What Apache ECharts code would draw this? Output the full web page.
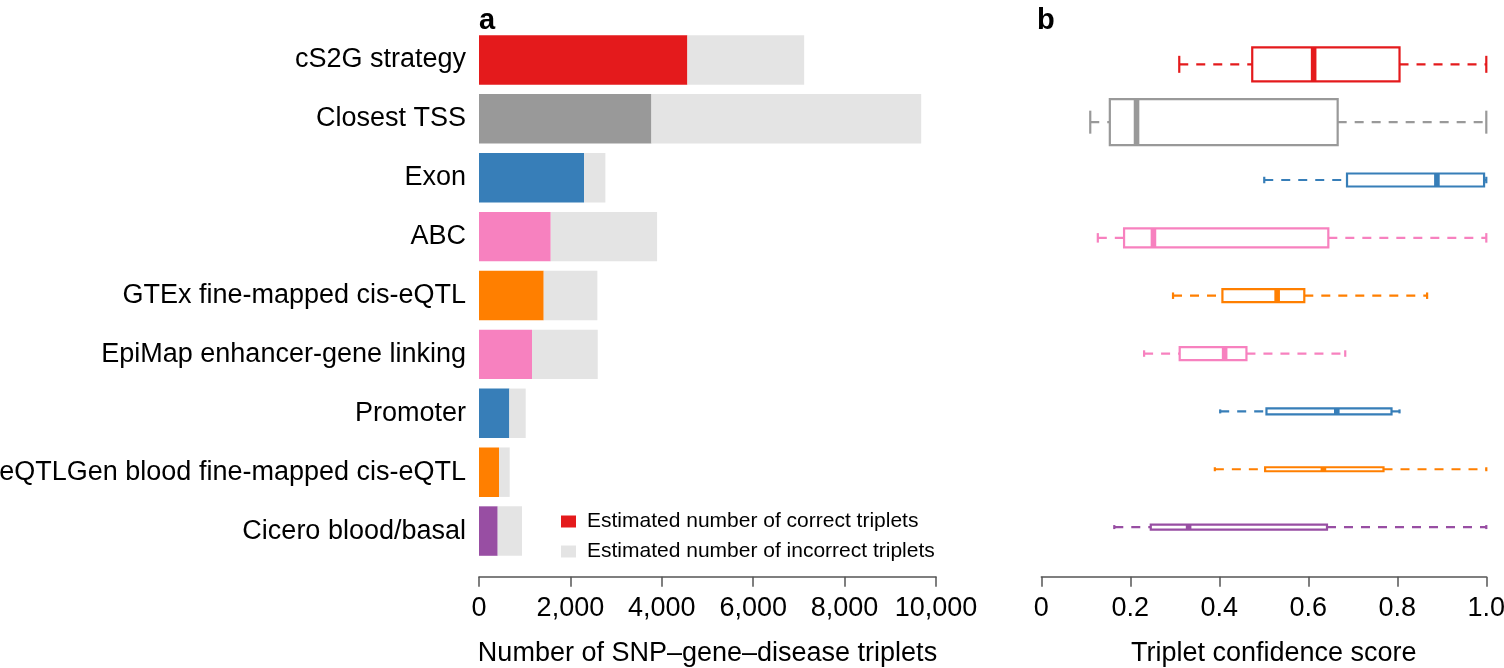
<!DOCTYPE html>
<html>
<head>
<meta charset="utf-8">
<script src="https://cdn.jsdelivr.net/npm/echarts@6/dist/echarts.min.js"></script>
<style>
  html, body { margin: 0; padding: 0; background: #fff; }
  #chart { width: 1504px; height: 668px; }
</style>
</head>
<body>
<div id="chart"></div>
<script>
// ---------- data ----------
const categories = [
  'cS2G strategy',
  'Closest TSS',
  'Exon',
  'ABC',
  'GTEx fine-mapped cis-eQTL',
  'EpiMap enhancer-gene linking',
  'Promoter',
  'eQTLGen blood fine-mapped cis-eQTL',
  'Cicero blood/basal'
];
// panel a: estimated numbers of triplets
const correctTriplets   = [4560, 3773, 2299, 1570, 1416, 1160, 664, 438, 409];
const incorrectTriplets = [2555, 5903, 466, 2327, 1174, 1438, 358, 234, 532];
// panel b: triplet confidence score box statistics
const whiskerLow  = [0.310, 0.110, 0.501, 0.127, 0.296, 0.231, 0.402, 0.390, 0.164];
const quartile1   = [0.474, 0.154, 0.687, 0.186, 0.407, 0.311, 0.506, 0.503, 0.246];
const medians     = [0.612, 0.214, 0.889, 0.252, 0.530, 0.412, 0.664, 0.634, 0.331];
const quartile3   = [0.805, 0.666, 0.995, 0.645, 0.591, 0.461, 0.787, 0.769, 0.642];
const whiskerHigh = [1.000, 1.000, 1.000, 1.000, 0.867, 0.683, 0.805, 1.000, 1.000];
// tick labels
const countTicks = ['0', '2,000', '4,000', '6,000', '8,000', '10,000'];
const scoreTicks = ['0', '0.2', '0.4', '0.6', '0.8', '1.0'];
const legendNames = ['Estimated number of correct triplets', 'Estimated number of incorrect triplets'];

// ---------- styles ----------
const methodColors = ['#E41A1C', '#999999', '#377EB8', '#F781BF', '#FF7F00', '#F781BF', '#377EB8', '#FF7F00', '#984EA3'];
const incorrectColor = '#E4E4E4';
const boxHeightsPx = [34, 46, 13, 19, 13, 13, 6, 4, 5];
const FONT = '"Liberation Sans", Arial, Helvetica, sans-serif';
const axisColor = '#555';

const chart = echarts.init(document.getElementById('chart'), null, { renderer: 'canvas' });

const xAxisCommon = {
  axisLine: { show: true, lineStyle: { color: axisColor, width: 1.5 } },
  axisTick: { show: true, length: 10, lineStyle: { color: axisColor, width: 1.5 } },
  splitLine: { show: false },
  axisLabel: { fontSize: 27, fontFamily: FONT, color: '#000', margin: 18, showMinLabel: true, showMaxLabel: true, hideOverlap: false },
  nameLocation: 'middle',
  nameGap: 63,
  nameTextStyle: { fontSize: 27, fontFamily: FONT, color: '#000' }
};

const option = {
  animation: false,
  backgroundColor: '#fff',
  textStyle: { fontFamily: FONT },
  grid: [
    { left: 479, right: 568, top: 30.5, bottom: 107.5, containLabel: false, outerBoundsMode: 'none' },
    { left: 1041.3, right: 17.7, top: 35.4, bottom: 112, containLabel: false, outerBoundsMode: 'none' }
  ],
  xAxis: [
    Object.assign({}, xAxisCommon, {
      gridIndex: 0, type: 'value', min: 0, max: 10000, interval: 2000,
      offset: 16.2,
      name: 'Number of SNP\u2013gene\u2013disease triplets',
      axisLabel: Object.assign({}, xAxisCommon.axisLabel, {
        formatter: (v) => countTicks[Math.round(v / 2000)]
      })
    }),
    Object.assign({}, xAxisCommon, {
      gridIndex: 1, type: 'value', min: 0, max: 1, interval: 0.2,
      offset: 20.7,
      name: 'Triplet confidence score',
      nameTextStyle: Object.assign({}, xAxisCommon.nameTextStyle, { padding: [0, 0, 0, 20] }),
      axisLabel: Object.assign({}, xAxisCommon.axisLabel, {
        formatter: (v) => scoreTicks[Math.round(v / 0.2)]
      })
    })
  ],
  yAxis: [
    {
      gridIndex: 0, type: 'category', data: categories, inverse: true,
      axisLine: { show: false }, axisTick: { show: false },
      axisLabel: { fontSize: 27, fontFamily: FONT, color: '#000', margin: 13, hideOverlap: false }
    },
    {
      gridIndex: 1, type: 'category', data: categories, inverse: true,
      axisLine: { show: false }, axisTick: { show: false }, axisLabel: { show: false }
    }
  ],
  legend: {
    orient: 'vertical',
    left: 561, top: 511, padding: 0,
    itemWidth: 15, itemHeight: 12, itemGap: 9,
    icon: 'rect',
    data: [
      { name: legendNames[0], itemStyle: { color: methodColors[0] } },
      { name: legendNames[1], itemStyle: { color: incorrectColor } }
    ],
    textStyle: { fontSize: 21, lineHeight: 21, fontFamily: FONT, color: '#000', padding: [0, 0, 0, 6] },
    selectedMode: false
  },
  graphic: [
    { type: 'text', left: 479, top: 6, style: { text: 'a', fontSize: 29, fontWeight: 'bold', fontFamily: FONT, fill: '#000' } },
    { type: 'text', left: 1037, top: 6, style: { text: 'b', fontSize: 29, fontWeight: 'bold', fontFamily: FONT, fill: '#000' } }
  ],
  series: [
    {
      name: legendNames[0], type: 'bar', stack: 'n', xAxisIndex: 0, yAxisIndex: 0,
      barWidth: '84%',
      itemStyle: { color: methodColors[0] },
      data: correctTriplets.map((v, i) => ({ value: v, itemStyle: { color: methodColors[i] } }))
    },
    {
      name: legendNames[1], type: 'bar', stack: 'n', xAxisIndex: 0, yAxisIndex: 0,
      barWidth: '84%',
      itemStyle: { color: incorrectColor },
      data: incorrectTriplets
    },
    {
      type: 'custom', xAxisIndex: 1, yAxisIndex: 1,
      encode: { x: [1, 2, 3, 4, 5], y: 0 },
      data: categories.map((c, i) => [i, whiskerLow[i], quartile1[i], medians[i], quartile3[i], whiskerHigh[i]]),
      renderItem: function (params, api) {
        const i = params.dataIndex;
        const cat = api.value(0);
        const pLow = api.coord([api.value(1), cat]);
        const pQ1 = api.coord([api.value(2), cat]);
        const pMed = api.coord([api.value(3), cat]);
        const pQ3 = api.coord([api.value(4), cat]);
        const pHigh = api.coord([api.value(5), cat]);
        const y = pMed[1];
        const h = boxHeightsPx[i];
        const capH = Math.max(h / 2, 4);
        const col = methodColors[i];
        const dashStyle = { stroke: col, lineWidth: 2.2, lineDash: [9, 8] };
        const solid = { stroke: col, lineWidth: 2.2 };
        return {
          type: 'group',
          children: [
            { type: 'line', shape: { x1: pLow[0], y1: y, x2: pQ1[0], y2: y }, style: dashStyle },
            { type: 'line', shape: { x1: pQ3[0], y1: y, x2: pHigh[0], y2: y }, style: dashStyle },
            { type: 'line', shape: { x1: pLow[0], y1: y - capH / 2, x2: pLow[0], y2: y + capH / 2 }, style: solid },
            { type: 'line', shape: { x1: pHigh[0], y1: y - capH / 2, x2: pHigh[0], y2: y + capH / 2 }, style: solid },
            { type: 'rect', shape: { x: pQ1[0], y: y - h / 2, width: pQ3[0] - pQ1[0], height: h },
              style: { fill: '#fff', stroke: col, lineWidth: 2.2 } },
            { type: 'rect', shape: { x: pMed[0] - 2.8, y: y - h / 2, width: 5.6, height: h },
              style: { fill: col } }
          ]
        };
      }
    }
  ]
};

chart.setOption(option);
</script>
</body>
</html>
